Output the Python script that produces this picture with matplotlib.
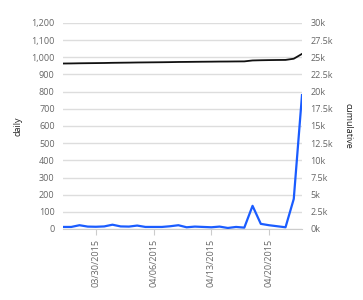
import matplotlib
matplotlib.use("Agg")
import matplotlib.pyplot as plt
import matplotlib.dates as mdates
import numpy as np
import pandas as pd

dates = pd.date_range("2015-03-26", "2015-04-24", freq="D")
daily = [12, 12, 22, 14, 13, 15, 25, 15, 14, 20, 12, 12, 12, 16, 22,
         10, 14, 12, 10, 14, 6, 12, 8, 135, 30, 22, 16, 10, 175, 780]
cumulative = [24100, 24112, 24134, 24148, 24161, 24176, 24201, 24216, 24230, 24250,
              24262, 24274, 24286, 24302, 24324, 24334, 24348, 24360, 24370, 24384,
              24390, 24402, 24410, 24545, 24575, 24597, 24613, 24623, 24798, 25500]
tick_dates = pd.to_datetime(["2015-03-30", "2015-04-06", "2015-04-13", "2015-04-20"])
left_ticks = list(range(0, 1201, 100))
right_ticks = [0, 2500, 5000, 7500, 10000, 12500, 15000, 17500, 20000, 22500, 25000, 27500, 30000]
right_labels = ["0k", "2.5k", "5k", "7.5k", "10k", "12.5k", "15k", "17.5k", "20k",
                "22.5k", "25k", "27.5k", "30k"]

plt.rcParams['font.family'] = ['Open Sans', 'DejaVu Sans']
tick_color = '#666666'
fs = 6.5

fig = plt.figure(figsize=(3.63, 3.00), dpi=100)
ax = fig.add_axes([63/363, 1-229/300, (302-63)/363, (229-23)/300])
ax2 = ax.twinx()

ax.set_ylim(0, 1200)
ax2.set_ylim(0, 30000)
ax.set_xlim(dates[0], dates[-1])

ax.set_yticks(left_ticks)
ax.set_yticklabels([f"{v:,}" for v in left_ticks])
ax2.set_yticks(right_ticks)
ax2.set_yticklabels(right_labels)

ax.grid(axis='y', color='#dddddd', linewidth=1)
ax.set_axisbelow(True)

ax.plot(dates, daily, color='#1a5cff', linewidth=1.6, zorder=3)
ax2.plot(dates, cumulative, color='#111111', linewidth=1.3, zorder=3)

ax.set_xticks(tick_dates)
ax.xaxis.set_major_formatter(mdates.DateFormatter("%m/%d/%Y"))
for lab in ax.get_xticklabels():
    lab.set_rotation(90)

for a in (ax, ax2):
    for s in a.spines.values():
        s.set_visible(False)
ax.spines['bottom'].set_visible(True)
ax.spines['bottom'].set_color('#cccccc')

ax.tick_params(axis='y', length=0, pad=6, labelsize=fs, labelcolor=tick_color)
ax2.tick_params(axis='y', length=0, pad=6, labelsize=fs, labelcolor=tick_color)
ax.tick_params(axis='x', length=4, color='#cccccc', pad=3, labelsize=fs, labelcolor=tick_color)

ax.set_ylabel("daily", fontsize=fs, color='#222222', labelpad=6)
ax2.set_ylabel("cumulative", fontsize=fs, color='#222222', rotation=270, labelpad=14)

fig.savefig("out.png", dpi=100)
